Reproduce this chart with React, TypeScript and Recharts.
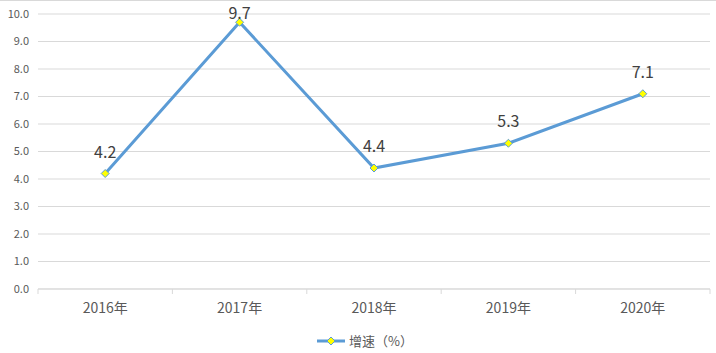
import React from "react";
import { LineChart, Line, XAxis, YAxis, CartesianGrid, LabelList } from "recharts";

const categories = ["2016年", "2017年", "2018年", "2019年", "2020年"];
const growth = [4.2, 9.7, 4.4, 5.3, 7.1];
const yTicks = [0, 1, 2, 3, 4, 5, 6, 7, 8, 9, 10];
const seriesName = "增速（%）";

const data = categories.map((c, i) => ({ year: c, value: growth[i] }));

const FONT = "'Noto Sans CJK SC', 'Microsoft YaHei', sans-serif";
const BLUE = "#5B9BD5";
const W = 716;
const H = 353;
const BAND = (710 - 38) / categories.length;

const Diamond = (props: any) => {
  const { cx, cy } = props;
  if (cx == null || cy == null) return null;
  const r = 4;
  return (
    <path
      d={`M${cx},${cy - r}L${cx + r},${cy}L${cx},${cy + r}L${cx - r},${cy}Z`}
      fill="#FFFF00"
      stroke={BLUE}
      strokeWidth={1}
    />
  );
};

const XTick = (props: any) => {
  const { x, payload, index } = props;
  const left = x - BAND / 2;
  const right = x + BAND / 2;
  return (
    <g>
      <line x1={left} x2={left} y1={289} y2={294} stroke="#d9d9d9" />
      {index === categories.length - 1 && (
        <line x1={right} x2={right} y1={289} y2={294} stroke="#d9d9d9" />
      )}
      <text x={x} y={313} textAnchor="middle" fill="#595959" fontSize={14} fontFamily={FONT}>
        {payload.value}
      </text>
    </g>
  );
};

const ValueLabel = (props: any) => {
  const { x, y, value } = props;
  const baseY = Math.max(y - 16, 19);
  return (
    <text x={x} y={baseY} textAnchor="middle" fill="#404040" fontSize={16} fontFamily={FONT}>
      {Number(value).toFixed(1)}
    </text>
  );
};

const LegendBox = () => (
  <svg width={W} height={20} style={{ position: "absolute", left: 0, top: 330 }}>
    <line x1={317} x2={345} y1={10} y2={10} stroke={BLUE} strokeWidth={3} />
    <path d="M331,6L335,10L331,14L327,10Z" fill="#FFFF00" stroke={BLUE} strokeWidth={1} />
    <text x={349} y={15} fill="#595959" fontSize={13} fontFamily={FONT}>
      {seriesName}
    </text>
  </svg>
);

export default function App() {
  return (
    <div
      style={{
        position: "absolute",
        left: 0,
        top: 0,
        width: W,
        height: H,
        background: "#fff",
        borderTop: "1px solid #d9d9d9",
        boxSizing: "border-box",
      }}
    >
      <div style={{ position: "absolute", left: 0, top: -1 }}>
        <LineChart width={W} height={H} data={data} margin={{ top: 14, right: 6, left: 0, bottom: 34 }}>
          <CartesianGrid vertical={false} stroke="#d9d9d9" />
          <XAxis
            dataKey="year"
            height={30}
            axisLine={{ stroke: "#d9d9d9" }}
            tickLine={false}
            tick={<XTick />}
            interval={0}
            padding={{ left: BAND / 2, right: BAND / 2 }}
          />
          <YAxis
            domain={[0, 10]}
            ticks={yTicks}
            width={38}
            axisLine={false}
            tickLine={false}
            tickMargin={3}
            tickFormatter={(v: number) => v.toFixed(1)}
            tick={{ fill: "#595959", fontSize: 11, fontFamily: FONT }}
            interval={0}
          />
          <Line
            type="linear"
            dataKey="value"
            name={seriesName}
            stroke={BLUE}
            strokeWidth={3}
            dot={<Diamond />}
            activeDot={false}
            isAnimationActive={false}
          >
            <LabelList dataKey="value" content={<ValueLabel />} />
          </Line>
        </LineChart>
      </div>
      <LegendBox />
    </div>
  );
}
